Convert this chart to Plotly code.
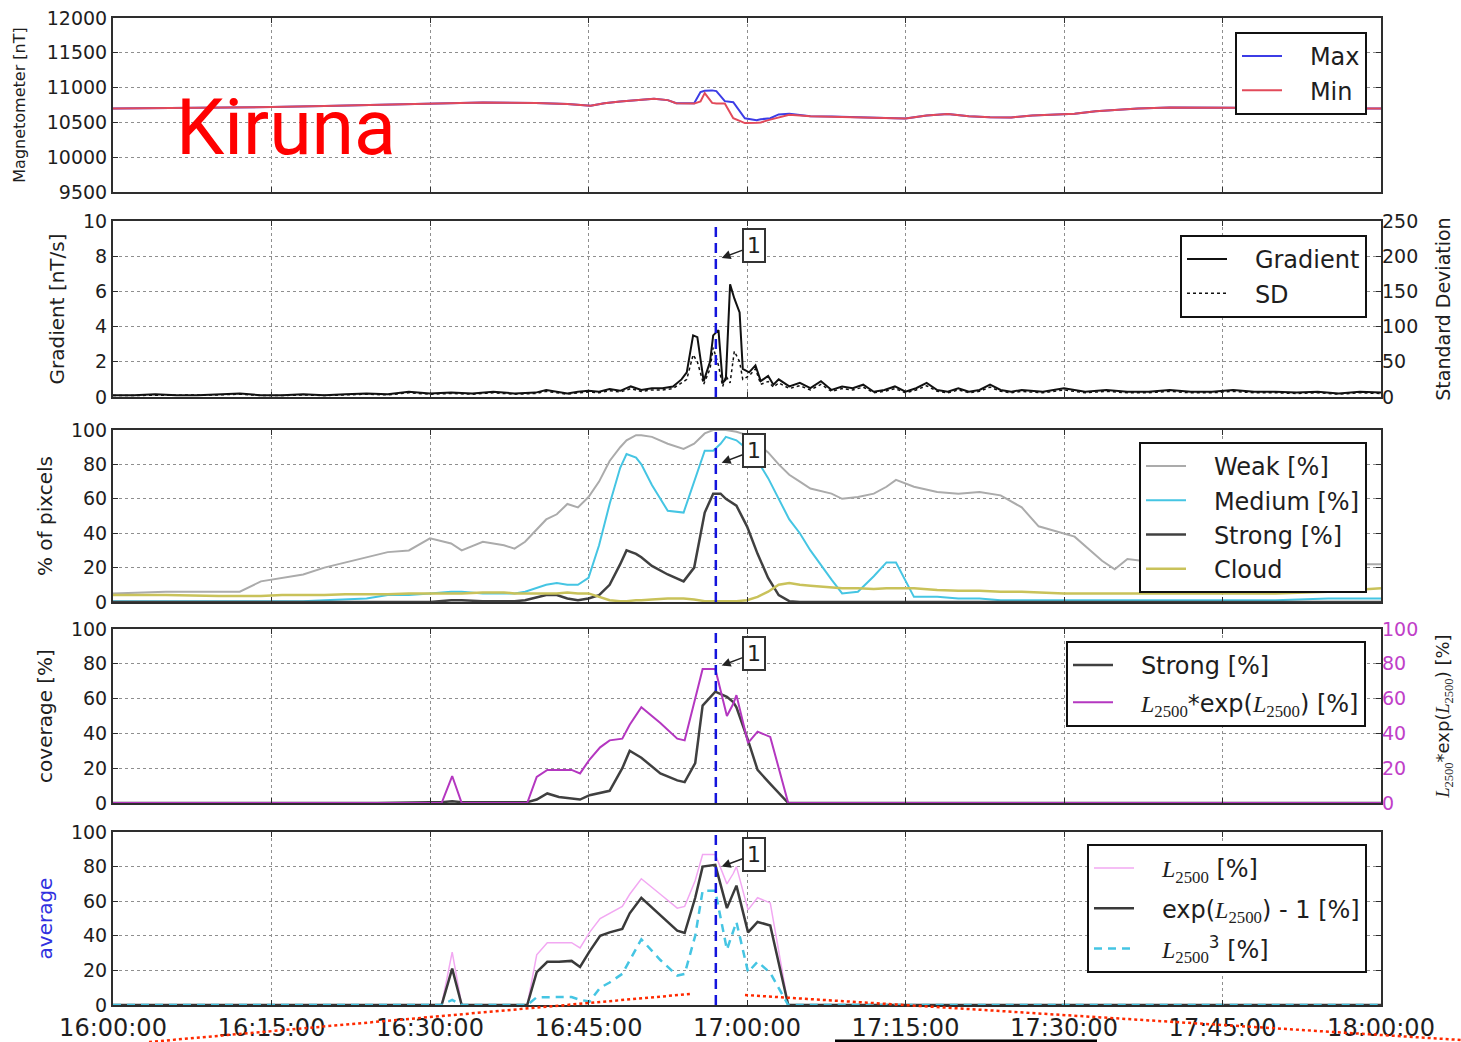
import pandas as pd
import plotly.graph_objects as go

W, H = 1461, 1042
BASE = pd.Timestamp("2015-01-01 16:00:00")

# ---------------- data (time in minutes after 16:00:00) ----------------
X_RANGE_MIN = [0, 120]
X_TICK_STEP_MIN = 15
EVENT_MIN = 57.05          # blue dashed marker "1"
ARROW_TIP_MIN = 57.6

# Panel 1: magnetometer [nT]
MAG_T = [0, 5, 10, 15, 20, 25, 30, 35, 40, 43,
         45.2, 46.5, 48, 50, 51.2, 52.5, 53.3, 55.0, 55.6, 56.0,
         56.7, 57.1, 57.9, 58.7, 59.8, 60.9, 61.3, 62.2, 63.0, 64,
         66, 68, 70, 72, 74, 75, 77, 79, 81, 83,
         85, 87, 89, 91, 93, 95, 97, 100, 103, 106,
         109, 112, 115, 118, 120]
MAG_MAX = [10700, 10705, 10712, 10720, 10735, 10750, 10775, 10785, 10780, 10765,
           10740, 10775, 10800, 10825, 10840, 10820, 10775, 10775, 10935, 10955,
           10960, 10950, 10805, 10790, 10560, 10530, 10545, 10560, 10615, 10625,
           10590, 10585, 10580, 10570, 10560, 10555, 10600, 10620, 10590, 10575,
           10570, 10600, 10615, 10625, 10660, 10685, 10700, 10715, 10715, 10712,
           10700, 10690, 10690, 10700, 10700]
MAG_MIN = [10700, 10705, 10712, 10720, 10735, 10750, 10775, 10785, 10780, 10765,
           10740, 10775, 10800, 10825, 10840, 10820, 10775, 10770, 10800, 10920,
           10780, 10770, 10770, 10560, 10490, 10495, 10500, 10540, 10575, 10610,
           10590, 10585, 10580, 10570, 10560, 10555, 10600, 10620, 10590, 10575,
           10570, 10600, 10615, 10625, 10660, 10685, 10700, 10715, 10715, 10712,
           10700, 10690, 10690, 10700, 10700]

# Panel 2: gradient [nT/s] and standard deviation
GRAD_T = [0, 2, 4, 6, 8, 10, 12, 14, 16, 18,
          20, 22, 24, 26, 28, 30, 32, 34, 36, 38,
          40, 41, 42, 43, 44, 45, 46, 47, 48, 49,
          50, 51, 52, 53, 53.8, 54.3, 54.9, 55.3, 55.9, 56.5,
          56.8, 57.3, 57.7, 58.0, 58.4, 58.8, 59.3, 59.6, 60.2, 60.8,
          61.3, 62, 62.5, 63, 64, 65, 66, 67, 68, 69,
          70, 71, 72, 73, 74, 75, 76, 77, 78, 79,
          80, 81, 82, 83, 84, 85, 86, 88, 90, 92,
          94, 96, 98, 100, 102, 104, 106, 108, 110, 112,
          114, 116, 118, 120]
GRADIENT = [0.1, 0.1, 0.15, 0.1, 0.1, 0.15, 0.2, 0.1, 0.1, 0.15,
            0.1, 0.15, 0.2, 0.15, 0.3, 0.2, 0.25, 0.2, 0.3, 0.2,
            0.25, 0.4, 0.3, 0.2, 0.3, 0.35, 0.3, 0.45, 0.35, 0.6,
            0.4, 0.5, 0.5, 0.6, 1.0, 1.4, 3.5, 3.4, 0.9, 2.0,
            3.5, 3.8, 0.8, 1.0, 6.4, 5.6, 4.8, 1.6, 1.4, 1.8,
            0.9, 1.2, 0.7, 1.0, 0.6, 0.8, 0.5, 0.9, 0.4, 0.6,
            0.5, 0.7, 0.3, 0.4, 0.6, 0.3, 0.5, 0.8, 0.4, 0.3,
            0.5, 0.3, 0.4, 0.7, 0.4, 0.3, 0.4, 0.3, 0.5, 0.3,
            0.4, 0.3, 0.3, 0.4, 0.3, 0.3, 0.4, 0.3, 0.3, 0.25,
            0.3, 0.2, 0.3, 0.25]
SD = [2, 2, 3, 2, 2, 3, 4, 2, 2, 3,
      2, 3, 4, 3, 6, 4, 5, 4, 6, 4,
      5, 8, 6, 4, 6, 7, 6, 9, 7, 12,
      8, 10, 10, 12, 20, 25, 60, 50, 18, 40,
      70, 45, 15, 30, 20, 65, 50, 25, 30, 40,
      18, 22, 14, 20, 12, 16, 10, 18, 8, 12,
      10, 14, 6, 8, 12, 6, 10, 16, 8, 6,
      10, 6, 8, 14, 8, 6, 8, 6, 10, 6,
      8, 6, 6, 8, 6, 6, 8, 6, 6, 5,
      6, 4, 6, 5]

# Panel 3: % of pixels
PIX_T = [0, 5, 10, 12, 14, 16, 18, 20, 22, 24,
         26, 28, 30, 32, 33, 35, 37, 38, 39, 41,
         42, 43, 44, 45, 46, 47, 48, 48.6, 49.5, 50,
         51, 52.5, 54, 55, 56, 56.8, 57.5, 58, 59, 60,
         61, 62, 63, 64, 65, 66, 68, 69, 70.5, 72,
         73.2, 74.1, 75.8, 78, 80, 82, 84, 86, 87.6, 90,
         91, 93.6, 94.8, 96, 100, 105, 110, 115, 120]
WEAK = [5, 6, 6, 6, 12, 14, 16, 20, 23, 26,
        29, 30, 37, 34, 30, 35, 33, 31, 35, 48,
        51, 57, 55, 61, 70, 82, 90, 94, 97, 97,
        96, 92, 89, 92, 98, 100, 100, 100, 99, 97,
        92, 87, 80, 74, 70, 66, 63, 60, 61, 63,
        67, 71, 67, 64, 63, 64, 62, 55, 44, 40,
        38, 24, 19, 25, 22, 22, 22, 22, 22]
MEDIUM = [0.5, 0.5, 0.5, 0.5, 0.5, 0.5, 0.5, 1, 1.5, 2,
          4, 4, 5, 6, 6, 5, 5, 5, 6, 10,
          11, 10, 10, 14, 33, 57, 78, 86, 84, 80,
          68, 53, 52, 70, 88, 88, 92, 96, 94, 89,
          82, 72, 60, 48, 40, 30, 13, 5, 6, 15,
          23, 23, 3, 3, 2, 2, 1, 1, 1, 1,
          1, 1, 1, 1, 1, 1, 1, 2, 2]
STRONG = [0, 0, 0, 0, 0, 0, 0, 0, 0, 0,
          0, 0, 0, 1, 1, 0.5, 0.5, 0.5, 1, 4,
          4, 2, 1, 2, 4, 10, 22, 30, 28, 26,
          21, 16, 12, 20, 52, 63, 63, 60, 56, 44,
          28, 14, 4, 0.5, 0, 0, 0, 0, 0, 0,
          0, 0, 0, 0, 0, 0, 0, 0, 0, 0,
          0, 0, 0, 0, 0, 0, 0, 0, 0]
CLOUD = [4, 4, 3.5, 3.5, 3.5, 4, 4, 4, 4.5, 4.5,
         4.5, 5, 5, 5, 5, 5.5, 5.5, 5, 5, 5,
         5, 5.5, 5, 5, 3, 1, 0.5, 0.5, 1, 1,
         1.5, 2, 2, 1.5, 0.5, 0.5, 0.5, 0.5, 0.5, 1,
         3, 6, 10, 11, 10, 9.5, 8.5, 8, 8, 7.5,
         8, 8, 8, 7, 6.5, 6.5, 6, 6, 5.5, 5,
         5, 5, 5, 5, 5, 5, 5, 6, 8]

# Panels 4 and 5: coverage / average [%]
COV_T = [0, 10, 20, 25, 30, 31.1, 32.1, 33, 35, 39.2,
         40.1, 41.1, 42.2, 43.4, 44.2, 45.1, 46.1, 47, 48.2, 48.9,
         50, 51.8, 53.4, 54.1, 55.1, 55.8, 57, 58.1, 58.7, 59,
         60.1, 61, 62.2, 63.9, 70, 80, 90, 100, 110, 120]
COV_STRONG = [0, 0, 0, 0, 0.5, 0.5, 1, 0.5, 0.5, 0.5,
              2, 5.5, 3.5, 2.5, 2, 4.5, 6, 7, 20, 30,
              26, 17, 13, 12, 23, 56, 64, 61, 58, 55,
              36, 19, 11, 0, 0, 0, 0, 0, 0, 0]
COV_LEXP = [0, 0, 0, 0, 0, 0, 15.5, 0, 0, 0,
            15, 19, 19, 19, 17, 25, 32, 36, 37, 45,
            55, 46, 37, 36, 60, 77, 77, 50, 57, 62,
            34.5, 41, 38, 0, 0, 0, 0, 0, 0, 0]
AVG_L = [0, 0, 0, 0, 0, 0, 30.6, 0, 0, 0,
         29, 36, 36, 36, 33, 42, 50, 53, 57, 64,
         73, 64, 56, 57, 72, 87, 87, 70, 76, 80,
         55, 62, 59, 0, 0, 0, 0, 0, 0, 0]
AVG_EXP1 = [0, 0, 0, 0, 0, 0, 21, 0, 0, 0,
            19, 25, 25, 25.5, 22, 31, 40, 42, 44, 53,
            62, 52, 43, 41.6, 62, 80, 81, 56, 65, 69,
            42, 48, 46, 0, 0, 0, 0, 0, 0, 0]
AVG_CUBE = [0, 0, 0, 0, 0, 0, 3, 0, 0, 0,
            4.5, 4.6, 4.6, 4.6, 3, 2, 10, 13, 18, 26,
            38, 26, 17, 18, 40, 66, 66, 32, 42, 48,
            19, 25, 18.6, 0, 0, 0, 0, 0, 0, 0]

# arrow tips of the "1" labels (y value per panel 2..5)
ARROW_TIP_Y = [7.9, 81, 79, 80]

# ---------------- helpers ----------------
def t(mins):
    return [BASE + pd.Timedelta(minutes=float(m)) for m in mins]

def ts(m):
    return (BASE + pd.Timedelta(minutes=float(m))).strftime("%Y-%m-%d %H:%M:%S")

FONT = "DejaVu Sans"
INK = "#1e1e1e"
FRAME = "#2e2e2e"
GRID = "#8f8f8f"
XDOM = [113 / W, 1381 / W]
PANELS_PX = [(18, 192), (221, 397), (430, 602), (629, 803), (832, 1005)]
PAD = "\u00a0\u00a0\u00a0"


def ydom(i):
    top, bot = PANELS_PX[i]
    return [1 - bot / H, 1 - top / H]


fig = go.Figure()


def add(x, y, name, color, width, xa, ya, legend, dash=None):
    fig.add_trace(go.Scatter(
        x=t(x), y=y, name=PAD + name, mode="lines",
        line=dict(color=color, width=width, dash=dash),
        xaxis=xa, yaxis=ya, legend=legend, legendgroup=legend + name,
        showlegend=True))


LSUB = "<span style=\"font-family:'Liberation Serif'\"><i>L</i><sub>2500</sub></span>"

add(MAG_T, MAG_MAX, "Max", "#3c3ce6", 2, "x", "y", "legend")
add(MAG_T, MAG_MIN, "Min", "#e24a5a", 2, "x", "y", "legend")

add(GRAD_T, GRADIENT, "Gradient", "#111111", 2, "x2", "y2", "legend2")
add(GRAD_T, SD, "SD", "#111111", 1.5, "x2", "y3", "legend2", dash="dot")

add(PIX_T, WEAK, "Weak [%]", "#ababab", 2, "x3", "y4", "legend3")
add(PIX_T, MEDIUM, "Medium [%]", "#45c5e3", 2, "x3", "y4", "legend3")
add(PIX_T, STRONG, "Strong [%]", "#404040", 2.5, "x3", "y4", "legend3")
add(PIX_T, CLOUD, "Cloud", "#c9c25a", 2.5, "x3", "y4", "legend3")

add(COV_T, COV_STRONG, "Strong [%]", "#404040", 2.5, "x4", "y5", "legend4")
add(COV_T, COV_LEXP, LSUB + "*exp(" + LSUB + ") [%]", "#b437c0", 2, "x4", "y6", "legend4")

add(COV_T, AVG_L, LSUB + " [%]", "#f2a8f2", 1.5, "x5", "y7", "legend5")
add(COV_T, AVG_EXP1, "exp(" + LSUB + ") - 1 [%]", "#3a3a3a", 2.5, "x5", "y7", "legend5")
add(COV_T, AVG_CUBE, LSUB + "<sup>3</sup> [%]", "#45c5e3", 2.5, "x5", "y7", "legend5", dash="8px,6px")

# ---------------- axes ----------------
xr = [ts(X_RANGE_MIN[0]), ts(X_RANGE_MIN[1])]


def xaxis(anchor, labels):
    return dict(type="date", domain=XDOM, anchor=anchor, range=xr, automargin=False,
                tick0=ts(0), dtick=X_TICK_STEP_MIN * 60 * 1000, tickformat="%H:%M:%S",
                showgrid=True, gridcolor=GRID, griddash="dot", gridwidth=1,
                showline=True, linecolor=FRAME, linewidth=2, mirror="ticks",
                ticks="inside", ticklen=5, tickcolor=FRAME, zeroline=False,
                showticklabels=labels,
                tickfont=dict(family=FONT, size=24, color=INK))


def yaxis(i, rng, dtick, title, tsize=20, tcolor=INK, standoff=13):
    return dict(domain=ydom(i), anchor=["x", "x2", "x3", "x4", "x5"][i], automargin=False,
                range=rng, tick0=rng[0], dtick=dtick, tickformat="d",
                showgrid=True, gridcolor=GRID, griddash="dot", gridwidth=1,
                showline=True, linecolor=FRAME, linewidth=2, mirror="ticks",
                ticks="inside", ticklen=5, tickcolor=FRAME, zeroline=False,
                tickfont=dict(family=FONT, size=19, color=INK),
                title=dict(text=title, font=dict(family=FONT, size=tsize, color=tcolor),
                           standoff=standoff))


def yright(over, anchor, rng, dtick, title, tickcolor=INK, tsize=19):
    return dict(overlaying=over, anchor=anchor, side="right", range=rng, tick0=rng[0],
                dtick=dtick, tickformat="d", automargin=False,
                showgrid=False, showline=False, zeroline=False,
                ticks="inside", ticklen=5, tickcolor=FRAME,
                tickfont=dict(family=FONT, size=19, color=tickcolor),
                title=dict(text=title, font=dict(family=FONT, size=tsize, color=INK), standoff=19))


def legend(right_px, top_px, gap):
    return dict(x=right_px / W, y=1 - top_px / H, xanchor="right", yanchor="top",
                bgcolor="white", bordercolor="#111111", borderwidth=2,
                font=dict(family=FONT, size=24, color=INK),
                itemwidth=40, tracegroupgap=gap, traceorder="grouped")


fig.update_layout(
    width=W, height=H, autosize=False,
    margin=dict(l=0, r=0, t=0, b=0, autoexpand=False),
    paper_bgcolor="white", plot_bgcolor="white",
    xaxis=xaxis("y", False),
    xaxis2=xaxis("y2", False),
    xaxis3=xaxis("y4", False),
    xaxis4=xaxis("y5", False),
    xaxis5=xaxis("y7", True),
    yaxis=yaxis(0, [9500, 12000], 500, "Magnetometer [nT]", tsize=16, standoff=17),
    yaxis2=yaxis(1, [0, 10], 2, "Gradient [nT/s]"),
    yaxis3=yright("y2", "x2", [0, 250], 50, "Standard Deviation"),
    yaxis4=yaxis(2, [0, 100], 20, "% of pixcels"),
    yaxis5=yaxis(3, [0, 100], 20, "coverage [%]"),
    yaxis6=yright("y5", "x4", [0, 100], 20,
                  LSUB + "*exp(" + LSUB + ") [%]", tickcolor="#c040c8", tsize=18),
    yaxis7=yaxis(4, [0, 100], 20, "average", tcolor="#3030e0"),
    legend=legend(1367, 32, 0),
    legend2=legend(1367, 235, 0),
    legend3=legend(1367, 442, 0),
    legend4=legend(1366, 641, 3),
    legend5=legend(1367, 844, 6),
    showlegend=True,
)

# ---------------- event marker and "1" labels ----------------
for xa, ya in [("x2", "y2"), ("x3", "y4"), ("x4", "y5"), ("x5", "y7")]:
    fig.add_shape(type="line", xref=xa, yref=ya + " domain",
                  x0=ts(EVENT_MIN), x1=ts(EVENT_MIN), y0=0, y1=1,
                  line=dict(color="#1414dc", width=2.5, dash="10px,6px"), layer="above")

for (xa, ya), yv in zip([("x2", "y2"), ("x3", "y4"), ("x4", "y5"), ("x5", "y7")], ARROW_TIP_Y):
    fig.add_annotation(x=ts(ARROW_TIP_MIN), y=yv, xref=xa, yref=ya, text="1",
                       showarrow=True, ax=32, ay=-12, arrowhead=2, arrowsize=1.2,
                       arrowwidth=1.5, arrowcolor="#222", standoff=0,
                       font=dict(family=FONT, size=22, color="#222"),
                       bordercolor="#333", borderwidth=2, borderpad=3, bgcolor="white")

# station label
fig.add_annotation(x=174 / W, y=1 - 128 / H, xref="paper", yref="paper", text="Kiruna",
                   showarrow=False, xanchor="left", yanchor="middle",
                   font=dict(family="Roboto", size=77, color="#ff0000"))

# zoom-guide lines and bar at the bottom edge (from the source figure)
fig.add_shape(type="line", xref="paper", yref="paper", x0=149 / W, y0=1 - 1042 / H,
              x1=690 / W, y1=1 - 994 / H, line=dict(color="#ff2a00", width=2.5, dash="dot"))
fig.add_shape(type="line", xref="paper", yref="paper", x0=745 / W, y0=1 - 995 / H,
              x1=1.0, y1=1 - 1040 / H, line=dict(color="#ff2a00", width=2.5, dash="dot"))
fig.add_shape(type="line", xref="paper", yref="paper", x0=835 / W, y0=1 - 1041 / H,
              x1=1097 / W, y1=1 - 1041 / H, line=dict(color="#000000", width=3))

fig.write_html("out.html")
